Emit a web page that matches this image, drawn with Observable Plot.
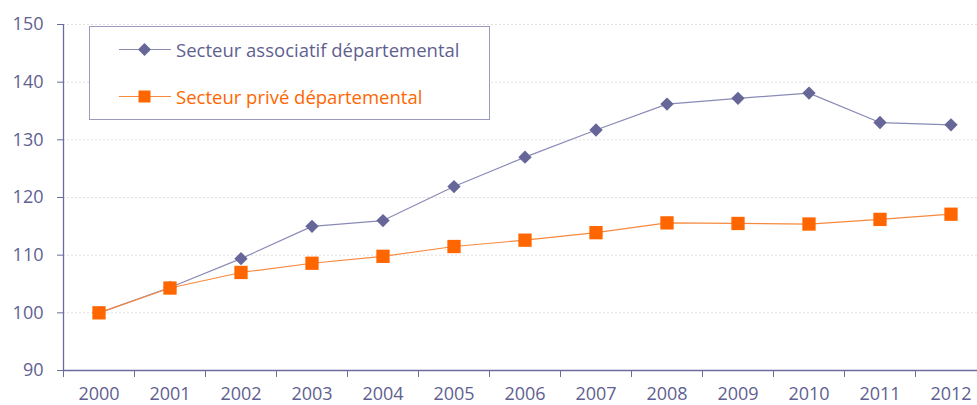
<!DOCTYPE html>
<html>
<head>
<meta charset="utf-8">
<script src="https://cdn.jsdelivr.net/npm/d3@7"></script>
<script src="https://cdn.jsdelivr.net/npm/@observablehq/plot@0.6"></script>
<style>
  html, body { margin: 0; padding: 0; background: #fff; }
  #wrap { position: relative; width: 977px; height: 405px; overflow: hidden; }
  #legend {
    position: absolute; left: 89px; top: 26px; width: 401px; height: 94px;
    border: 1px solid #9b9bbf; background: #fff; box-sizing: border-box;
    font-family: "Open Sans", sans-serif; font-size: 18.5px;
  }
  .item { position: absolute; left: 29px; height: 24px; display: flex; align-items: center; }
  .item svg { margin-right: 5px; }
</style>
</head>
<body>
<div id="wrap"></div>
<script>
const years = [2000, 2001, 2002, 2003, 2004, 2005, 2006, 2007, 2008, 2009, 2010, 2011, 2012];
const associatif = [100, 104.4, 109.4, 115.0, 116.0, 121.9, 127.0, 131.7, 136.2, 137.2, 138.1, 133.0, 132.6];
const prive = [100, 104.3, 107.0, 108.6, 109.8, 111.5, 112.6, 113.9, 115.6, 115.5, 115.4, 116.2, 117.1];
const seriesNames = ["Secteur associatif départemental", "Secteur privé départemental"];
const yTicks = [90, 100, 110, 120, 130, 140, 150];

const axisColor = "#6b6b9e";
const textColor = "#5f5f91";
const purpleLine = "#8a8ab8";
const purpleMark = "#666699";
const orange = "#ff6600";
const orangeLine = "#f7893f";

const dataA = years.map((y, i) => ({year: y, value: associatif[i]}));
const dataP = years.map((y, i) => ({year: y, value: prive[i]}));
const boundaries = years.map(y => y - 0.5).concat([years[years.length - 1] + 0.5]);

const chart = Plot.plot({
  width: 977,
  height: 405,
  marginLeft: 63,
  marginTop: 24,
  marginBottom: 35,
  marginRight: 0,
  style: {fontFamily: "Open Sans, sans-serif", fontSize: "18px", color: textColor, background: "#fff"},
  x: {type: "linear", domain: [years[0] - 0.5, years[years.length - 1] + 0.5], range: [63, 986]},
  y: {domain: [90, 150], range: [370, 24]},
  marks: [
    Plot.ruleY(yTicks.filter(t => t > 90), {stroke: "#e0e0e0", strokeWidth: 1, strokeDasharray: "2,2"}),
    Plot.ruleY([90], {stroke: axisColor, strokeWidth: 1.3}),
    Plot.ruleX([years[0] - 0.5], {stroke: axisColor, strokeWidth: 1.3}),
    Plot.axisY({ticks: yTicks, tickSize: 6, tickPadding: 14, stroke: axisColor, fill: textColor, label: null, tickFormat: d => d}),
    Plot.axisX({ticks: boundaries, tickSize: 7, stroke: axisColor, tickFormat: () => "", label: null}),
    Plot.axisX({ticks: years, tickSize: 0, tickPadding: 17, fill: textColor, tickFormat: d => String(d), label: null}),
    Plot.line(dataA, {x: "year", y: "value", stroke: purpleLine, strokeWidth: 1.2}),
    Plot.line(dataP, {x: "year", y: "value", stroke: orangeLine, strokeWidth: 1.2}),
    Plot.dot(dataA, {x: "year", y: "value", symbol: "diamond2", r: 6, fill: purpleMark, stroke: null}),
    Plot.dot(dataP, {x: "year", y: "value", symbol: "square", r: 7.5, fill: orange, stroke: null})
  ]
});

const wrap = document.getElementById("wrap");
wrap.appendChild(chart);

const legend = document.createElement("div");
legend.id = "legend";
const itemsDef = [
  {name: seriesNames[0], line: purpleLine, mark: purpleMark, color: textColor, shape: "diamond", top: 10},
  {name: seriesNames[1], line: orangeLine, mark: orange, color: orange, shape: "square", top: 57}
];
itemsDef.forEach(it => {
  const d = document.createElement("div");
  d.className = "item";
  d.style.top = it.top + "px";
  const shape = it.shape === "diamond"
    ? `<polygon points="25.5,5 32,11.5 25.5,18 19,11.5" fill="${it.mark}"/>`
    : `<rect x="19.5" y="5.5" width="12" height="12" fill="${it.mark}"/>`;
  d.innerHTML = `<svg width="52" height="23"><line x1="0" x2="52" y1="11.5" y2="11.5" stroke="${it.line}" stroke-width="1.2"/>${shape}</svg><span style="color:${it.color}">${it.name}</span>`;
  legend.appendChild(d);
});
wrap.appendChild(legend);
</script>
</body>
</html>
